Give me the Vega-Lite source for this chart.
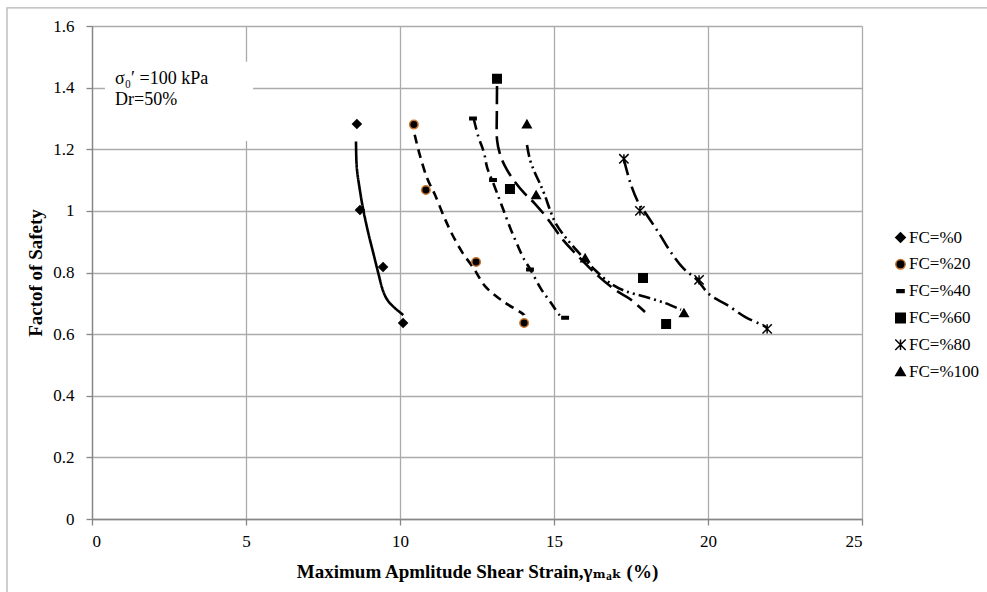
{
  "$schema": "https://vega.github.io/schema/vega-lite/v6.json",
  "width": 770,
  "height": 493,
  "autosize": {"type": "none"},
  "padding": {"left": 92, "top": 26, "right": 125, "bottom": 73},
  "background": "white",
  "config": {
    "font": "Liberation Serif",
    "view": {"stroke": null},
    "axis": {
      "labelFont": "Liberation Serif",
      "titleFont": "Liberation Serif, DejaVu Serif",
      "labelFontSize": 17,
      "titleFontSize": 19,
      "titleFontWeight": "bold",
      "labelColor": "black",
      "titleColor": "black",
      "gridColor": "#ababab",
      "gridWidth": 1.3,
      "domainColor": "#868686",
      "domainWidth": 1.3,
      "tickColor": "#868686",
      "tickWidth": 1.3,
      "tickSize": 6
    },
    "legend": {
      "labelFont": "Liberation Serif",
      "labelFontSize": 17,
      "labelColor": "black"
    }
  },
  "datasets": {
    "points": [
      {"series": "FC=%0", "x": 8.6, "y": 1.282},
      {"series": "FC=%0", "x": 8.7, "y": 1.003},
      {"series": "FC=%0", "x": 9.45, "y": 0.818},
      {"series": "FC=%0", "x": 10.1, "y": 0.636},
      {"series": "FC=%20", "x": 10.45, "y": 1.28},
      {"series": "FC=%20", "x": 10.84, "y": 1.068},
      {"series": "FC=%20", "x": 12.47, "y": 0.834},
      {"series": "FC=%20", "x": 14.03, "y": 0.636},
      {"series": "FC=%40", "x": 12.37, "y": 1.3},
      {"series": "FC=%40", "x": 13.02, "y": 1.1},
      {"series": "FC=%40", "x": 14.22, "y": 0.81},
      {"series": "FC=%40", "x": 15.36, "y": 0.653},
      {"series": "FC=%60", "x": 13.15, "y": 1.429},
      {"series": "FC=%60", "x": 13.57, "y": 1.071},
      {"series": "FC=%60", "x": 17.89, "y": 0.782},
      {"series": "FC=%60", "x": 18.64, "y": 0.633},
      {"series": "FC=%80", "x": 17.27, "y": 1.169},
      {"series": "FC=%80", "x": 17.79, "y": 1.0},
      {"series": "FC=%80", "x": 19.71, "y": 0.776},
      {"series": "FC=%80", "x": 21.92, "y": 0.617},
      {"series": "FC=%100", "x": 14.12, "y": 1.282},
      {"series": "FC=%100", "x": 14.42, "y": 1.052},
      {"series": "FC=%100", "x": 16.01, "y": 0.847},
      {"series": "FC=%100", "x": 19.22, "y": 0.669}
    ],
    "curves": [
      {"trend": "trend 0", "i": 1, "x": 8.571, "y": 1.225},
      {"trend": "trend 0", "i": 2, "x": 8.594, "y": 1.144},
      {"trend": "trend 0", "i": 3, "x": 8.679, "y": 1.079},
      {"trend": "trend 0", "i": 4, "x": 8.808, "y": 1.003},
      {"trend": "trend 0", "i": 5, "x": 8.971, "y": 0.928},
      {"trend": "trend 0", "i": 6, "x": 9.133, "y": 0.863},
      {"trend": "trend 0", "i": 7, "x": 9.295, "y": 0.798},
      {"trend": "trend 0", "i": 8, "x": 9.458, "y": 0.738},
      {"trend": "trend 0", "i": 9, "x": 9.675, "y": 0.7},
      {"trend": "trend 0", "i": 10, "x": 10.107, "y": 0.662},
      {"trend": "trend 20", "i": 1, "x": 10.477, "y": 1.247},
      {"trend": "trend 20", "i": 2, "x": 10.649, "y": 1.179},
      {"trend": "trend 20", "i": 3, "x": 10.877, "y": 1.107},
      {"trend": "trend 20", "i": 4, "x": 11.136, "y": 1.052},
      {"trend": "trend 20", "i": 5, "x": 11.429, "y": 0.981},
      {"trend": "trend 20", "i": 6, "x": 11.688, "y": 0.925},
      {"trend": "trend 20", "i": 7, "x": 12.013, "y": 0.867},
      {"trend": "trend 20", "i": 8, "x": 12.403, "y": 0.812},
      {"trend": "trend 20", "i": 9, "x": 12.76, "y": 0.756},
      {"trend": "trend 20", "i": 10, "x": 13.279, "y": 0.711},
      {"trend": "trend 20", "i": 11, "x": 13.896, "y": 0.672},
      {"trend": "trend 20", "i": 12, "x": 14.03, "y": 0.662},
      {"trend": "trend 40", "i": 1, "x": 12.403, "y": 1.295},
      {"trend": "trend 40", "i": 2, "x": 12.543, "y": 1.241},
      {"trend": "trend 40", "i": 3, "x": 12.727, "y": 1.189},
      {"trend": "trend 40", "i": 4, "x": 12.835, "y": 1.139},
      {"trend": "trend 40", "i": 5, "x": 13.052, "y": 1.084},
      {"trend": "trend 40", "i": 6, "x": 13.225, "y": 1.038},
      {"trend": "trend 40", "i": 7, "x": 13.377, "y": 0.998},
      {"trend": "trend 40", "i": 8, "x": 13.604, "y": 0.938},
      {"trend": "trend 40", "i": 9, "x": 13.81, "y": 0.89},
      {"trend": "trend 40", "i": 10, "x": 14.036, "y": 0.841},
      {"trend": "trend 40", "i": 11, "x": 14.221, "y": 0.812},
      {"trend": "trend 40", "i": 12, "x": 14.578, "y": 0.747},
      {"trend": "trend 40", "i": 13, "x": 14.87, "y": 0.706},
      {"trend": "trend 40", "i": 14, "x": 15.195, "y": 0.66},
      {"trend": "trend 40", "i": 15, "x": 15.357, "y": 0.654},
      {"trend": "trend 60", "i": 1, "x": 13.15, "y": 1.405},
      {"trend": "trend 60", "i": 2, "x": 13.145, "y": 1.328},
      {"trend": "trend 60", "i": 3, "x": 13.15, "y": 1.231},
      {"trend": "trend 60", "i": 4, "x": 13.279, "y": 1.175},
      {"trend": "trend 60", "i": 5, "x": 13.474, "y": 1.133},
      {"trend": "trend 60", "i": 6, "x": 13.734, "y": 1.094},
      {"trend": "trend 60", "i": 7, "x": 14.058, "y": 1.055},
      {"trend": "trend 60", "i": 8, "x": 14.383, "y": 1.023},
      {"trend": "trend 60", "i": 9, "x": 14.773, "y": 0.977},
      {"trend": "trend 60", "i": 10, "x": 15.292, "y": 0.906},
      {"trend": "trend 60", "i": 11, "x": 15.747, "y": 0.857},
      {"trend": "trend 60", "i": 12, "x": 16.396, "y": 0.792},
      {"trend": "trend 60", "i": 13, "x": 16.981, "y": 0.744},
      {"trend": "trend 60", "i": 14, "x": 17.468, "y": 0.714},
      {"trend": "trend 60", "i": 15, "x": 17.955, "y": 0.672},
      {"trend": "trend 80", "i": 1, "x": 17.273, "y": 1.166},
      {"trend": "trend 80", "i": 2, "x": 17.468, "y": 1.094},
      {"trend": "trend 80", "i": 3, "x": 17.727, "y": 1.029},
      {"trend": "trend 80", "i": 4, "x": 18.052, "y": 0.981},
      {"trend": "trend 80", "i": 5, "x": 18.442, "y": 0.922},
      {"trend": "trend 80", "i": 6, "x": 18.766, "y": 0.87},
      {"trend": "trend 80", "i": 7, "x": 19.188, "y": 0.815},
      {"trend": "trend 80", "i": 8, "x": 19.643, "y": 0.776},
      {"trend": "trend 80", "i": 9, "x": 20.065, "y": 0.727},
      {"trend": "trend 80", "i": 10, "x": 20.617, "y": 0.695},
      {"trend": "trend 80", "i": 11, "x": 21.201, "y": 0.656},
      {"trend": "trend 80", "i": 12, "x": 21.753, "y": 0.63},
      {"trend": "trend 80", "i": 13, "x": 21.916, "y": 0.62},
      {"trend": "trend 100", "i": 1, "x": 14.123, "y": 1.214},
      {"trend": "trend 100", "i": 2, "x": 14.221, "y": 1.166},
      {"trend": "trend 100", "i": 3, "x": 14.383, "y": 1.123},
      {"trend": "trend 100", "i": 4, "x": 14.545, "y": 1.088},
      {"trend": "trend 100", "i": 5, "x": 14.708, "y": 1.049},
      {"trend": "trend 100", "i": 6, "x": 14.87, "y": 1.003},
      {"trend": "trend 100", "i": 7, "x": 15.065, "y": 0.958},
      {"trend": "trend 100", "i": 8, "x": 15.39, "y": 0.912},
      {"trend": "trend 100", "i": 9, "x": 15.844, "y": 0.86},
      {"trend": "trend 100", "i": 10, "x": 16.331, "y": 0.808},
      {"trend": "trend 100", "i": 11, "x": 16.818, "y": 0.766},
      {"trend": "trend 100", "i": 12, "x": 17.305, "y": 0.74},
      {"trend": "trend 100", "i": 13, "x": 17.955, "y": 0.721},
      {"trend": "trend 100", "i": 14, "x": 18.604, "y": 0.701},
      {"trend": "trend 100", "i": 15, "x": 19.123, "y": 0.679}
    ],
    "box": [{"x": 0.42, "x2": 5.23, "y": 1.227, "y2": 1.484}],
    "frame": [{"x": -2.76, "x2": 29.5, "y": 1.659, "y2": -0.3}],
    "note": [
      {"line": "σ₀′ =100 kPa", "x": 0.75, "y": 1.429},
      {"line": "Dr=50%", "x": 0.75, "y": 1.36}
    ]
  },
  "encoding": {
    "x": {
      "field": "x", "type": "quantitative",
      "scale": {"domain": [0, 25], "nice": false},
      "axis": {
        "values": [0, 5, 10, 15, 20, 25],
        "grid": true,
        "labelPadding": 8,
        "title": "Maximum Apmlitude Shear Strain,γₘₐₖ (%)",
        "titlePadding": 13
      }
    },
    "y": {
      "field": "y", "type": "quantitative",
      "scale": {"domain": [0, 1.6], "nice": false},
      "axis": {
        "values": [0, 0.2, 0.4, 0.6, 0.8, 1, 1.2, 1.4, 1.6],
        "format": "~g",
        "grid": true,
        "labelPadding": 12,
        "title": "Factof of Safety",
        "titlePadding": 7
      }
    }
  },
  "layer": [
    {
      "data": {"name": "frame"},
      "mark": {"type": "rect", "fill": null, "stroke": "#b4b4b4", "strokeWidth": 1.3},
      "encoding": {
        "x2": {"field": "x2"},
        "y2": {"field": "y2"}
      }
    },
    {
      "data": {"name": "curves"},
      "mark": {"type": "line", "color": "black", "strokeWidth": 2.6, "interpolate": "cardinal"},
      "encoding": {
        "order": {"field": "i", "type": "quantitative"},
        "strokeDash": {
          "field": "trend", "type": "nominal",
          "scale": {
            "domain": ["trend 0", "trend 20", "trend 40", "trend 60", "trend 80", "trend 100"],
            "range": [[1, 0], [9, 6], [10, 5, 2, 5], [18, 7], [16, 5, 2, 5], [12, 4, 2, 4, 2, 4]]
          },
          "legend": null
        }
      }
    },
    {
      "data": {"name": "box"},
      "mark": {"type": "rect", "fill": "white", "stroke": null},
      "encoding": {
        "x2": {"field": "x2"},
        "y2": {"field": "y2"}
      }
    },
    {
      "data": {"name": "note"},
      "mark": {"type": "text", "align": "left", "baseline": "middle", "fontSize": 18, "font": "Liberation Serif", "color": "black"},
      "encoding": {
        "text": {"field": "line", "type": "nominal"}
      }
    },
    {
      "data": {"name": "points"},
      "mark": {"type": "point", "filled": true, "fill": "black", "strokeWidth": 1.5, "opacity": 1, "size": 72},
      "encoding": {
        "shape": {
          "field": "series", "type": "nominal",
          "scale": {
            "domain": ["FC=%0", "FC=%20", "FC=%40", "FC=%60", "FC=%80", "FC=%100"],
            "range": ["diamond", "circle", "M-0.75,-0.3H0.75V0.3H-0.75Z", "square", "M-1.1,-1.1L1.1,1.1M-1.1,1.1L1.1,-1.1M0,-1.1L0,1.1", "triangle-up"]
          },
          "legend": {
            "title": null,
            "orient": "none",
            "legendX": 800,
            "legendY": 203,
            "labelOffset": 0,
            "rowPadding": 8.8,
            "symbolSize": 90,
            "symbolOpacity": 1,
            "symbolFillColor": "black",
            "symbolStrokeWidth": 1.5,
            "padding": 0
          }
        },
        "stroke": {
          "field": "series", "type": "nominal",
          "scale": {
            "domain": ["FC=%0", "FC=%20", "FC=%40", "FC=%60", "FC=%80", "FC=%100"],
            "range": ["black", "#c8742f", "black", "black", "black", "black"]
          },
          "legend": {
            "title": null,
            "orient": "none",
            "legendX": 800,
            "legendY": 203,
            "labelOffset": 0,
            "rowPadding": 8.8,
            "symbolSize": 90,
            "symbolOpacity": 1,
            "symbolFillColor": "black",
            "symbolStrokeWidth": 1.5,
            "padding": 0
          }
        }
      }
    }
  ]
}
